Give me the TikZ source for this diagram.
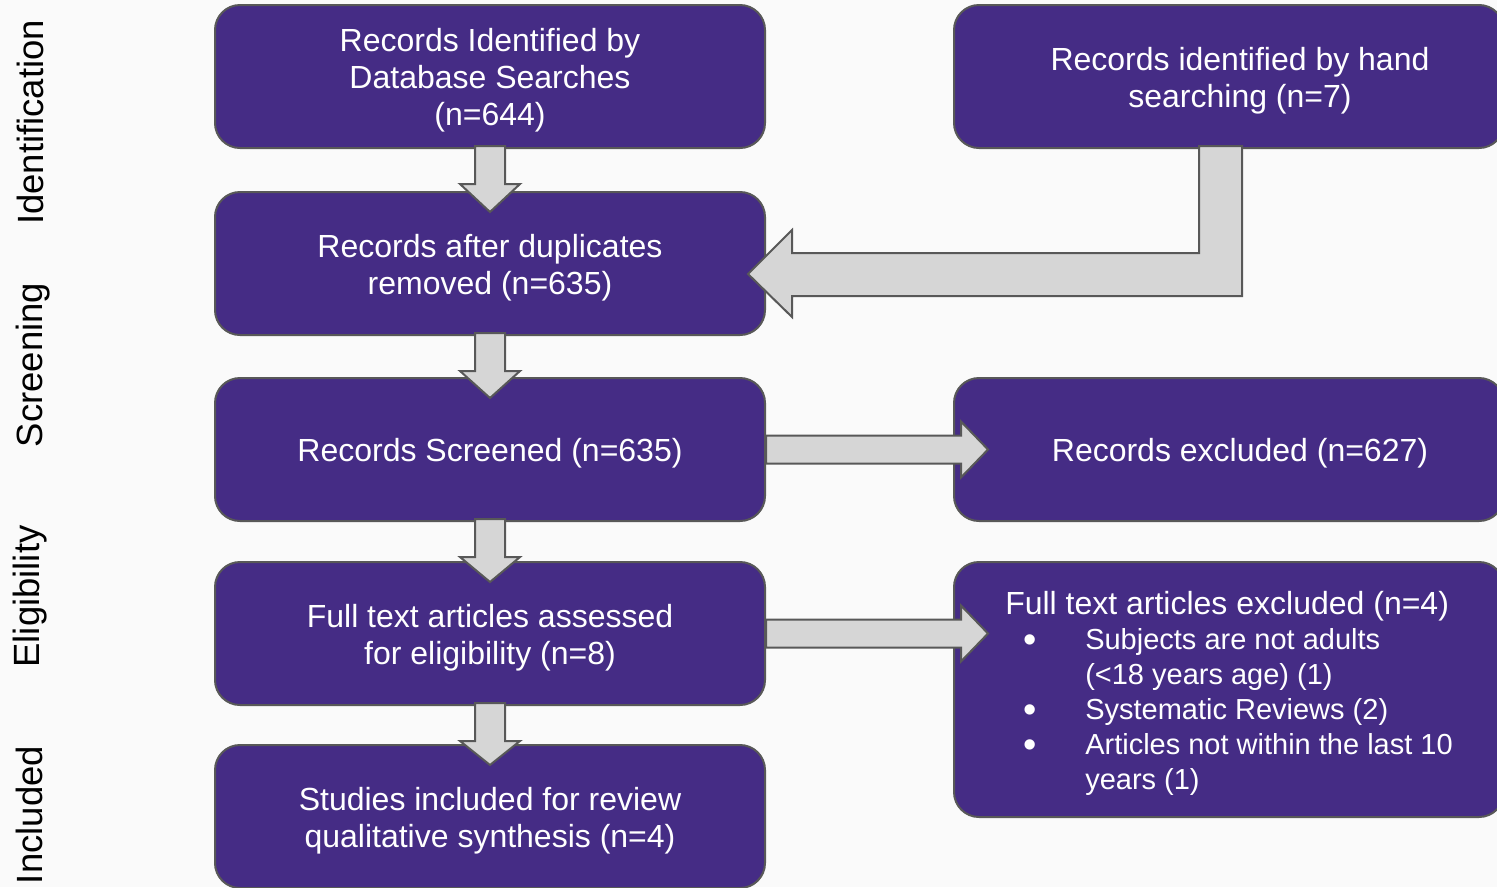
\documentclass[tikz,border=0pt]{standalone}
\usepackage{fontspec}
\setmainfont{Liberation Sans}
\usetikzlibrary{calc}
\definecolor{boxpurple}{RGB}{69,44,133}
\definecolor{boxedge}{RGB}{88,88,88}
\definecolor{arrowfill}{RGB}{214,214,214}
\definecolor{bgcol}{RGB}{250,250,250}
% extra head room on a box's first line
\newcommand{\capgap}{\rule{0pt}{31pt}}
% bullet of the exclusion list
\newcommand{\exitem}{\hspace*{18pt}\makebox[62pt][l]{\raisebox{-3pt}{\fontsize{38}{35}\selectfont •}}}
\tikzset{
  stagebox/.style={draw=boxedge, fill=boxpurple, line width=2pt, rounded corners=25pt,
    minimum width=550, minimum height=143, text=white, align=center,
    font=\fontsize{32}{37}\selectfont},
  blockarrow/.style={draw=boxedge, fill=arrowfill, line width=2pt, line join=miter},
  phase/.style={rotate=90, anchor=base, font=\fontsize{36.5}{40}\selectfont}
}
\begin{document}
\begin{tikzpicture}[x=1pt, y=-1pt]
% Canvas
\useasboundingbox (0,0) rectangle (1497,887);
\fill[bgcol] (0,0) rectangle (1497,887);
\clip (0,0) rectangle (1497,887);
% Phase labels
\node[phase] (pident) at (43,122.5) {Identification};
\node[phase] (pscreen) at (42,365) {Screening};
\node[phase] (pelig) at (39,596.5) {Eligibility};
\node[phase] (pincl) at (42,815) {Included};
% Left column
\node[stagebox] (dbsearch) at (490,76.5) {\capgap Records Identified by\\Database Searches\\(n=644)};
\node[stagebox] (dedup) at (490,263.5) {\capgap Records after duplicates\\removed (n=635)};
\node[stagebox] (screen) at (490,449.5) {\capgap Records Screened (n=635)};
\node[stagebox] (fulltext) at (490,633.5) {\capgap Full text articles assessed\\for eligibility (n=8)};
\node[stagebox] (incl) at (490,816.5) {\capgap Studies included for review\\qualitative synthesis (n=4)};
% Right column
\node[stagebox] (hand) at (1229,76.5) {\capgap\hspace*{22pt}Records identified by hand\\\hspace*{22pt}searching (n=7)};
\node[stagebox] (excl) at (1229,449.5) {\capgap\hspace*{22pt}Records excluded (n=627)};
\node[stagebox, minimum height=255, align=left,
  font=\fontsize{29}{35}\selectfont] (ftexcl) at (1229,689.5) {%
  \capgap{\fontsize{32}{35}\selectfont Full text articles excluded (n=4)}\\
  \exitem Subjects are not adults\\
  \hspace*{80pt}(<18 years age) (1)\\
  \exitem Systematic Reviews (2)\\
  \exitem Articles not within the last 10\\
  \hspace*{80pt}years (1)};
% Down arrows
\foreach \a/\b in {dbsearch/dedup, dedup/screen, screen/fulltext, fulltext/incl}
  \draw[blockarrow] ($(\a.south)+(-15,-3)$) -- ($(\a.south)+(15,-3)$) -- ($(\a.south)+(15,35)$)
    -- ($(\a.south)+(30,35)$) -- ($(\b.north)+(0,21)$) -- ($(\a.south)+(-30,35)$)
    -- ($(\a.south)+(-15,35)$) -- cycle;
% Hand search arrow
\draw[blockarrow] ($(hand.south)+(-30,-3)$) -- ($(hand.south)+(13,-3)$) |- ($(dedup.east)+(26,32.5)$)
  -- ++(0,21) -- ($(dedup.east)+(-18,10.5)$) -- ++(44,-44) -- ++(0,23)
  -| ($(hand.south)+(-30,-3)$) -- cycle;
% Exclusion arrows
\coordinate (sx) at (screen.east -| excl.west);
\draw[blockarrow] ($(screen.east)+(0,-14)$) -- ($(sx)+(8,-14)$) -- ++(0,-14) -- ($(sx)+(35,0)$)
  -- ($(sx)+(8,28)$) -- ++(0,-14) -- ($(screen.east)+(0,14)$) -- cycle;
\coordinate (fx) at (fulltext.east -| ftexcl.west);
\draw[blockarrow] ($(fulltext.east)+(0,-14)$) -- ($(fx)+(8,-14)$) -- ++(0,-14) -- ($(fx)+(35,0)$)
  -- ($(fx)+(8,28)$) -- ++(0,-14) -- ($(fulltext.east)+(0,14)$) -- cycle;
\end{tikzpicture}
\end{document}
